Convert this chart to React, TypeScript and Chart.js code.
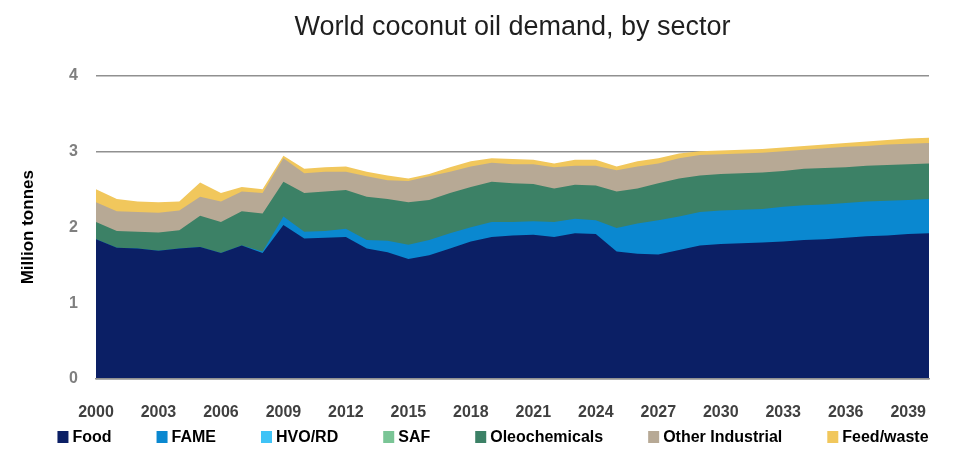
import React, { useEffect, useRef } from 'react';
import { Chart, registerables } from 'chart.js';

Chart.register(...registerables);

const years = [
  '2000', '2001', '2002', '2003', '2004', '2005', '2006', '2007', '2008', '2009',
  '2010', '2011', '2012', '2013', '2014', '2015', '2016', '2017', '2018', '2019',
  '2020', '2021', '2022', '2023', '2024', '2025', '2026', '2027', '2028', '2029',
  '2030', '2031', '2032', '2033', '2034', '2035', '2036', '2037', '2038', '2039', '2040',
];

const xTickLabels = ['2000', '2003', '2006', '2009', '2012', '2015', '2018', '2021', '2024', '2027', '2030', '2033', '2036', '2039'];
const yTickValues = [0, 1, 2, 3, 4];

const food = [
  1.84, 1.73, 1.72, 1.69, 1.72, 1.74, 1.66, 1.76, 1.66, 2.03,
  1.85, 1.86, 1.87, 1.72, 1.67, 1.58, 1.63, 1.72, 1.81, 1.87,
  1.89, 1.90, 1.87, 1.92, 1.91, 1.68, 1.65, 1.64, 1.70, 1.76,
  1.78, 1.79, 1.80, 1.81, 1.83, 1.84, 1.86, 1.88, 1.89, 1.91, 1.92,
];
const fame = [
  0, 0, 0, 0, 0, 0, 0, 0, 0.02, 0.11,
  0.09, 0.09, 0.11, 0.11, 0.15, 0.19, 0.20, 0.20, 0.19, 0.20,
  0.18, 0.18, 0.20, 0.19, 0.18, 0.31, 0.40, 0.45, 0.44, 0.44,
  0.44, 0.44, 0.44, 0.46, 0.46, 0.46, 0.46, 0.46, 0.46, 0.45, 0.45,
];
const hvoRd = [
  0, 0, 0, 0, 0, 0, 0, 0, 0, 0,
  0, 0, 0, 0, 0, 0, 0, 0, 0, 0,
  0, 0, 0, 0, 0, 0, 0, 0, 0, 0,
  0, 0, 0, 0, 0, 0, 0, 0, 0, 0, 0,
];
const saf = [
  0, 0, 0, 0, 0, 0, 0, 0, 0, 0,
  0, 0, 0, 0, 0, 0, 0, 0, 0, 0,
  0, 0, 0, 0, 0, 0, 0, 0, 0, 0,
  0, 0, 0, 0, 0, 0, 0, 0, 0, 0, 0,
];
const oleochemicals = [
  0.23, 0.22, 0.22, 0.24, 0.24, 0.41, 0.41, 0.45, 0.50, 0.46,
  0.51, 0.52, 0.51, 0.57, 0.55, 0.56, 0.53, 0.53, 0.53, 0.53,
  0.51, 0.49, 0.44, 0.45, 0.46, 0.48, 0.46, 0.49, 0.50, 0.48,
  0.48, 0.48, 0.48, 0.47, 0.48, 0.48, 0.47, 0.47, 0.47, 0.47, 0.47,
];
const otherIndustrial = [
  0.26, 0.26, 0.26, 0.26, 0.26, 0.25, 0.27, 0.26, 0.27, 0.31,
  0.26, 0.26, 0.24, 0.27, 0.25, 0.28, 0.31, 0.28, 0.27, 0.25,
  0.25, 0.26, 0.28, 0.25, 0.26, 0.28, 0.29, 0.26, 0.27, 0.27,
  0.26, 0.26, 0.26, 0.26, 0.25, 0.26, 0.27, 0.26, 0.27, 0.27, 0.27,
];
const feedWaste = [
  0.17, 0.16, 0.14, 0.14, 0.12, 0.19, 0.11, 0.06, 0.05, 0.03,
  0.06, 0.06, 0.07, 0.06, 0.06, 0.03, 0.03, 0.06, 0.07, 0.06,
  0.07, 0.06, 0.05, 0.08, 0.08, 0.05, 0.07, 0.07, 0.06, 0.05,
  0.05, 0.05, 0.05, 0.05, 0.05, 0.05, 0.05, 0.06, 0.06, 0.07, 0.07,
];

const seriesNames = ['Food', 'FAME', 'HVO/RD', 'SAF', 'Oleochemicals', 'Other Industrial', 'Feed/waste'];
const seriesColors = ['#0b1f65', '#0a88d0', '#3fc3f6', '#7ac596', '#3c8166', '#b7a995', '#f1c75c'];
const seriesValues = [food, fame, hvoRd, saf, oleochemicals, otherIndustrial, feedWaste];

const FONT = "'Liberation Sans', Arial, sans-serif";

const legendPlugin = {
  id: 'customLegend',
  afterDraw(chart: any) {
    const ctx = chart.ctx as CanvasRenderingContext2D;
    ctx.save();
    ctx.font = `bold 16px ${FONT}`;
    ctx.textBaseline = 'middle';
    ctx.textAlign = 'left';
    const boxW = 11;
    const boxH = 12;
    const textGap = 4;
    const itemGap = 45;
    const ds = chart.data.datasets;
    const widths = ds.map((d: any) => boxW + textGap + ctx.measureText(d.label).width);
    const total = widths.reduce((a: number, b: number) => a + b, 0) + itemGap * (ds.length - 1);
    const centerX = 485;
    const y = chart.chartArea.bottom + 58;
    let x = centerX - total / 2;
    ds.forEach((d: any, i: number) => {
      ctx.fillStyle = d.backgroundColor;
      ctx.fillRect(x, y - boxH / 2, boxW, boxH);
      ctx.fillStyle = '#000000';
      ctx.fillText(d.label, x + boxW + textGap, y + 1);
      x += widths[i] + itemGap;
    });
    ctx.restore();
  },
};

export default function App() {
  const canvasRef = useRef<HTMLCanvasElement | null>(null);

  useEffect(() => {
    if (!canvasRef.current) return;
    const datasets = seriesNames.map((name, i) => {
      const empty = seriesValues[i].every((v) => v === 0);
      return {
        label: name,
        data: seriesValues[i],
        backgroundColor: seriesColors[i],
        borderColor: seriesColors[i],
        borderWidth: 0,
        pointRadius: 0,
        pointHoverRadius: 0,
        tension: 0,
        fill: empty ? false : 'origin',
      };
    });

    const chart = new Chart(canvasRef.current, {
      type: 'line',
      data: { labels: years, datasets: datasets as any },
      plugins: [legendPlugin],
      options: {
        animation: false,
        responsive: false,
        maintainAspectRatio: false,
        events: [],
        layout: { padding: { left: 0, right: 25, top: 0, bottom: 50 } },
        plugins: {
          legend: { display: false },
          tooltip: { enabled: false },
          title: {
            display: true,
            text: 'World coconut oil demand, by sector',
            fullSize: false,
            color: '#1f1f1f',
            font: { family: FONT, size: 27, weight: 'normal' },
            padding: { top: 3, bottom: 32 },
          },
        },
        scales: {
          x: {
            type: 'category',
            offset: false,
            grid: { display: false },
            border: { display: true, color: '#909090', width: 1.5, z: 1 },
            afterFit: (scale: any) => { scale.height = 39; },
            ticks: {
              autoSkip: false,
              maxRotation: 0,
              minRotation: 0,
              padding: 16,
              color: '#404040',
              font: { family: FONT, size: 16, weight: 'bold' },
              callback: (_v: any, i: number) => (xTickLabels.includes(years[i]) ? years[i] : ''),
            },
          },
          y: {
            stacked: true,
            min: 0,
            max: 4,
            afterFit: (scale: any) => { scale.width = 88; },
            afterBuildTicks: (scale: any) => { scale.ticks = yTickValues.map((v) => ({ value: v })); },
            grid: { color: '#909090', lineWidth: 1.5, drawTicks: false },
            border: { display: false },
            ticks: {
              padding: 18,
              color: '#7f7f7f',
              font: { family: FONT, size: 16, weight: 'bold' },
            },
            title: {
              display: true,
              text: 'Million tonnes',
              color: '#000000',
              font: { family: FONT, size: 17, weight: 'bold' },
              padding: { top: 10, bottom: 0 },
            },
          },
        },
      },
    });
    return () => chart.destroy();
  }, []);

  return (
    <div style={{ width: 946, height: 460 }}>
      <canvas ref={canvasRef} width={946} height={460} style={{ width: 946, height: 460 }} />
    </div>
  );
}
